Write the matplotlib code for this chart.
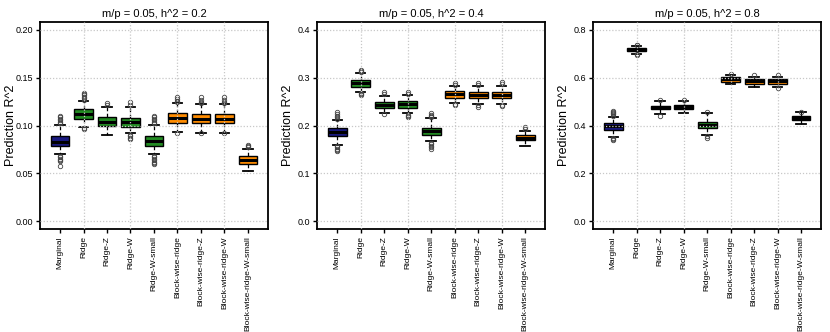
import matplotlib
matplotlib.use("Agg")
import matplotlib.pyplot as plt

plt.rcParams['font.family'] = ['Liberation Sans', 'DejaVu Sans']

methods = ['Marginal', 'Ridge', 'Ridge-Z', 'Ridge-W', 'Ridge-W-small',
           'Block-wise-ridge', 'Block-wise-ridge-Z', 'Block-wise-ridge-W',
           'Block-wise-ridge-W-small']
box_colors = ['#1a1a80', '#228b22', '#228b22', '#228b22', '#228b22',
              '#ff8c00', '#ff8c00', '#ff8c00', '#ff8c00']

titles = ['m/p = 0.05, h^2 = 0.2', 'm/p = 0.05, h^2 = 0.4', 'm/p = 0.05, h^2 = 0.8']
yticks_all = [[0.00, 0.05, 0.10, 0.15, 0.20], [0.0, 0.1, 0.2, 0.3, 0.4],
              [0.0, 0.2, 0.4, 0.6, 0.8]]
ytick_fmt = ['{:.2f}', '{:.1f}', '{:.1f}']

# h^2 = 0.2
med_02 = [0.0832, 0.1121, 0.1041, 0.1036, 0.0838, 0.1080, 0.1072, 0.1072, 0.0645]
q1_02 = [0.0783, 0.1069, 0.0993, 0.0990, 0.0783, 0.1028, 0.1024, 0.1024, 0.0603]
q3_02 = [0.0889, 0.1173, 0.1086, 0.1080, 0.0889, 0.1131, 0.1121, 0.1121, 0.0679]
lo_02 = [0.0700, 0.0983, 0.0897, 0.0924, 0.0700, 0.0931, 0.0924, 0.0924, 0.0524]
hi_02 = [0.1010, 0.1255, 0.1197, 0.1190, 0.1010, 0.1231, 0.1221, 0.1221, 0.0759]
out_02 = [
    [0.1025, 0.1040, 0.1055, 0.1070, 0.1085, 0.1096, 0.0685, 0.0670, 0.0655, 0.0640, 0.0630, 0.0583],
    [0.1270, 0.1285, 0.1300, 0.1315, 0.1330, 0.1345, 0.0970, 0.0966],
    [0.1215, 0.1235],
    [0.1215, 0.1248, 0.0905, 0.0890, 0.0875, 0.0862],
    [0.1025, 0.1040, 0.1055, 0.1070, 0.1085, 0.1096, 0.0685, 0.0670, 0.0655, 0.0640, 0.0625, 0.0610, 0.0597],
    [0.1245, 0.1260, 0.1275, 0.1293, 0.0925],
    [0.1235, 0.1250, 0.1270, 0.1293, 0.0918],
    [0.1235, 0.1250, 0.1270, 0.1293, 0.0918],
    [0.0772, 0.0786, 0.0800],
]

# h^2 = 0.4
med_04 = [0.1876, 0.2880, 0.2430, 0.2444, 0.1896, 0.2652, 0.2637, 0.2640, 0.1751]
q1_04 = [0.1786, 0.2809, 0.2361, 0.2361, 0.1807, 0.2581, 0.2568, 0.2568, 0.1689]
q3_04 = [0.1959, 0.2948, 0.2498, 0.2505, 0.1959, 0.2720, 0.2705, 0.2705, 0.1807]
lo_04 = [0.1600, 0.2705, 0.2257, 0.2257, 0.1668, 0.2477, 0.2450, 0.2450, 0.1579]
hi_04 = [0.2118, 0.3087, 0.2616, 0.2637, 0.2153, 0.2824, 0.2824, 0.2824, 0.1890]
out_04 = [
    [0.2140, 0.2170, 0.2200, 0.2235, 0.2278, 0.1575, 0.1550, 0.1520, 0.1490, 0.1460],
    [0.3110, 0.3135, 0.3156, 0.2680, 0.2660, 0.2637],
    [0.2650, 0.2693, 0.2235],
    [0.2665, 0.2693, 0.2230, 0.2200, 0.2174],
    [0.2175, 0.2200, 0.2230, 0.2257, 0.1645, 0.1610, 0.1580, 0.1550, 0.1510],
    [0.2855, 0.2892, 0.2455, 0.2430],
    [0.2855, 0.2892, 0.2430, 0.2394],
    [0.2860, 0.2905, 0.2430, 0.2405],
    [0.1925, 0.1967],
]

# h^2 = 0.8
med_08 = [0.3990, 0.7170, 0.4760, 0.4776, 0.4030, 0.5925, 0.5840, 0.5840, 0.4307]
q1_08 = [0.3820, 0.7100, 0.4690, 0.4690, 0.3890, 0.5826, 0.5743, 0.5743, 0.4224]
q3_08 = [0.4125, 0.7237, 0.4830, 0.4860, 0.4166, 0.6009, 0.5925, 0.5925, 0.4400]
lo_08 = [0.3540, 0.7000, 0.4486, 0.4514, 0.3614, 0.5718, 0.5590, 0.5590, 0.4058]
hi_08 = [0.4370, 0.7330, 0.5025, 0.5030, 0.4514, 0.6104, 0.6040, 0.6040, 0.4556]
out_08 = [
    [0.4420, 0.4470, 0.4520, 0.4570, 0.4610, 0.3500, 0.3460, 0.3410],
    [0.7360, 0.7380, 0.6980, 0.6960],
    [0.5060, 0.4415],
    [0.5067],
    [0.4580, 0.3560, 0.3477],
    [0.6170],
    [0.6100],
    [0.6120, 0.5550],
    [0.4580],
]

panels = [(med_02, q1_02, q3_02, lo_02, hi_02, out_02),
          (med_04, q1_04, q3_04, lo_04, hi_04, out_04),
          (med_08, q1_08, q3_08, lo_08, hi_08, out_08)]

fig = plt.figure(figsize=(8.3, 3.32), dpi=100)
lefts = [0.048, 0.382, 0.7145]
positions = list(range(1, len(methods) + 1))

for k, (med, q1, q3, lo, hi, out) in enumerate(panels):
    ax = fig.add_axes([lefts[k], 0.31, 0.275, 0.6235])
    stats = []
    for i in range(len(methods)):
        stats.append(dict(med=med[i], q1=q1[i], q3=q3[i], whislo=lo[i],
                          whishi=hi[i], fliers=out[i]))
    bp = ax.bxp(stats, positions=positions, widths=0.8, patch_artist=True,
                boxprops=dict(edgecolor='black', linewidth=1.0),
                medianprops=dict(color='black', linewidth=2.2),
                whiskerprops=dict(color='black', linestyle=(0, (3, 2)), linewidth=0.9),
                capprops=dict(color='black', linewidth=1.3),
                capwidths=0.4,
                flierprops=dict(marker='o', markersize=3.2, markerfacecolor='none',
                                markeredgecolor='#444444', markeredgewidth=0.6))
    for patch, c in zip(bp['boxes'], box_colors):
        patch.set_facecolor(c)

    top = yticks_all[k][-1]
    ax.set_ylim(-0.04 * top, top * 1.04)
    ax.set_xlim(0.14, 9.86)

    # dotted grid drawn over the boxes
    for yv in yticks_all[k]:
        ax.axhline(yv, color='#c8c8c8', linestyle=(0, (1, 1.5)), linewidth=0.9, zorder=5)
    for xv in positions[1::2]:
        ax.axvline(xv, color='#c8c8c8', linestyle=(0, (1, 1.5)), linewidth=0.9, zorder=5)

    ax.set_yticks(yticks_all[k])
    ax.set_yticklabels([ytick_fmt[k].format(v) for v in yticks_all[k]], fontsize=6.5)
    ax.set_xticks(positions)
    ax.set_xticklabels(methods, rotation=90, fontsize=6)
    ax.tick_params(axis='both', direction='out', length=3, width=1, pad=2)
    for s in ax.spines.values():
        s.set_linewidth(1.3)
    ax.set_ylabel('Prediction R^2', fontsize=9)
    ax.yaxis.set_label_coords(-0.10, 0.5)
    ax.set_title(titles[k], fontsize=8, pad=4)

plt.savefig('out.png', dpi=100)
